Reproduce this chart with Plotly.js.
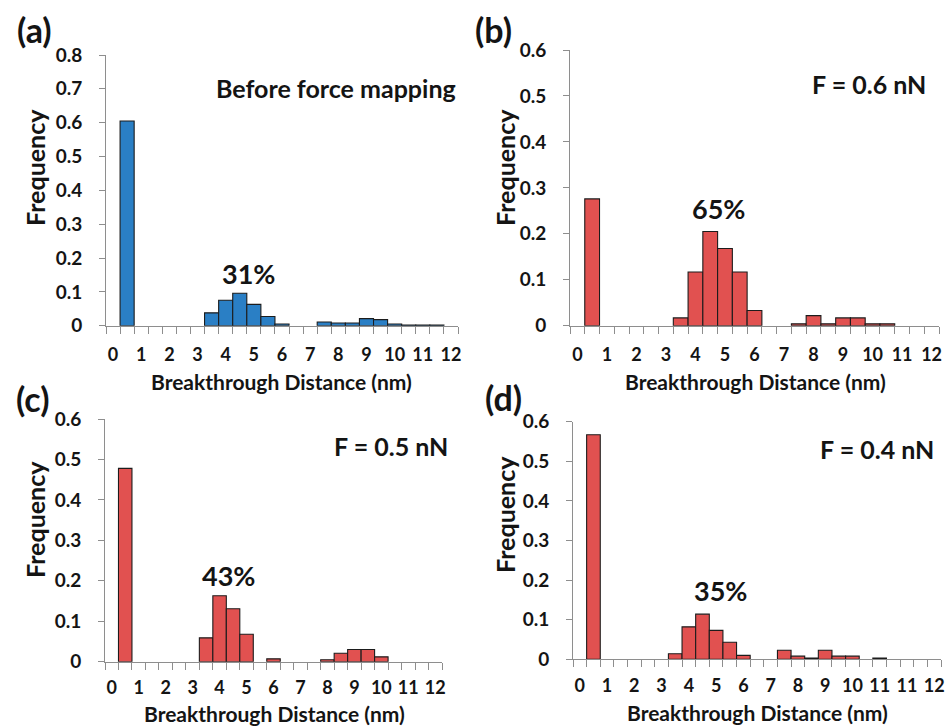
<!DOCTYPE html>
<html>
<head>
<meta charset="utf-8">
<script src="https://cdn.plot.ly/plotly-3.0.1.min.js"></script>
<style>html,body{margin:0;padding:0;background:#fff;}#chart{width:946px;height:726px;}</style>
</head>
<body>
<div id="chart"></div>
<script>
// Frequency per 0.5 nm bin (slot index 0 = label "0", slot 1 = bar between 0 and 1, ...)
const labelsA = ['0','1','2','3','4','5','6','7','8','9','10','11','12'];
const freqA = [0, 0.605, 0, 0, 0, 0, 0, 0.038, 0.075, 0.096, 0.063, 0.027, 0.005, 0, 0, 0.011, 0.008, 0.008, 0.021, 0.018, 0.005, 0.002, 0.002, 0.002, 0];

const labelsB = ['0','1','2','3','4','5','6','7','8','9','10','11','12'];
const freqB = [0, 0.276, 0, 0, 0, 0, 0, 0.017, 0.117, 0.205, 0.168, 0.117, 0.033, 0, 0, 0.004, 0.022, 0.004, 0.017, 0.017, 0.004, 0.004, 0, 0, 0];

const labelsC = ['0','1','2','3','4','5','6','7','8','9','10','11','12'];
const freqC = [0, 0.478, 0, 0, 0, 0, 0, 0.059, 0.163, 0.131, 0.068, 0, 0.007, 0, 0, 0, 0.005, 0.021, 0.030, 0.030, 0.012, 0, 0, 0, 0];

const labelsD = ['0','1','2','3','4','5','6','7','8','9','10','11','11','12'];
const freqD = [0, 0.567, 0, 0, 0, 0, 0, 0.014, 0.082, 0.114, 0.073, 0.043, 0.010, 0, 0, 0.023, 0.008, 0.003, 0.023, 0.008, 0.008, 0, 0.003, 0, 0, 0, 0];

const panelLetters = ['(a)', '(b)', '(c)', '(d)'];
const panelNotes = ['Before force mapping', 'F = 0.6 nN', 'F = 0.5 nN', 'F = 0.4 nN'];
const peakShares = ['31%', '65%', '43%', '35%'];
const yMax = [0.8, 0.6, 0.6, 0.6];
const xTitle = 'Breakthrough Distance (nm)';
const yTitle = 'Frequency';

const BLUE = '#2a7fc5', RED = '#e15150';
const W = 946, H = 726;
const FONT = 'Lato, "Open Sans", sans-serif';
const TXT = '#141414';
const AX = '#8e8e8e';

// pixel boxes of each plot area: [left, right, top, bottom]
const boxes = [
  [106, 458, 55, 325.7],
  [570, 939, 50, 325.7],
  [105, 442, 419, 661.7],
  [573, 941, 421.7, 659.3]
];
const panels = [
  {labels: labelsA, freq: freqA, color: BLUE},
  {labels: labelsB, freq: freqB, color: RED},
  {labels: labelsC, freq: freqC, color: RED},
  {labels: labelsD, freq: freqD, color: RED}
];
// text positions (pixels)
const letterPos = [[34, 29], [493, 30], [32, 398], [503, 397]];
const notePos = [[336, 88], [869, 84], [391, 446], [877, 449]];
const sharePos = [[248, 273], [718, 208], [228, 575], [720, 590]];
const yTitlePos = [[35, 168], [505, 168], [35, 520], [505, 515]];
const xTitlePos = [[281, 381], [755, 381], [274, 713], [757, 712]];
const xLabelStandoff = [13, 13, 10, 10];

const px = (x) => x / W;
const py = (y) => 1 - y / H;

// make repeated tick texts distinct (invisible suffix) so each one is drawn
function uniqueTexts(arr) {
  const seen = {};
  return arr.map(t => {
    seen[t] = (seen[t] || 0) + 1;
    return seen[t] > 1 ? t + '\u200b'.repeat(seen[t] - 1) : t;
  });
}

const data = [];
const layout = {
  width: W, height: H,
  margin: {l: 0, r: 0, t: 0, b: 0},
  paper_bgcolor: '#fff', plot_bgcolor: '#fff',
  showlegend: false,
  bargap: 0,
  font: {family: FONT, color: TXT},
  annotations: []
};

panels.forEach((p, k) => {
  const n = p.freq.length;
  const idx = p.freq.map((_, i) => i);
  const sfx = k === 0 ? '' : String(k + 1);
  data.push({
    type: 'bar',
    x: idx,
    y: p.freq.map(v => v === 0 ? null : v),
    width: 1,
    xaxis: 'x' + sfx, yaxis: 'y' + sfx,
    marker: {color: p.color, line: {color: '#1c1c1c', width: 1.1}},
    hoverinfo: 'x+y'
  });
  const b = boxes[k];
  const tickIdx = p.labels.map((_, i) => 2 * i);
  const bounds = [];
  for (let i = 0; i <= n; i++) bounds.push(i - 0.5);
  layout['xaxis' + sfx] = {
    domain: [px(b[0]), px(b[1])],
    anchor: 'y' + sfx,
    range: [-0.5, n - 0.5],
    tickmode: 'array', tickvals: tickIdx, ticktext: uniqueTexts(p.labels),
    ticks: '',
    tickangle: 0,
    ticklabeloverflow: 'allow',
    ticklabelstandoff: xLabelStandoff[k],
    minor: {tickmode: 'array', tickvals: bounds, ticks: 'outside', ticklen: 7, tickcolor: AX, tickwidth: 1, showgrid: false},
    showline: true, linecolor: AX, linewidth: 1,
    showgrid: false, zeroline: false,
    tickfont: {family: FONT, size: 18, weight: 'bold', color: TXT},
    fixedrange: true
  };
  layout['yaxis' + sfx] = {
    domain: [py(b[3]), py(b[2])],
    anchor: 'x' + sfx,
    range: [0, yMax[k]],
    dtick: 0.1, tick0: 0,
    ticks: 'outside', ticklen: 6, tickcolor: AX, tickwidth: 1,
    ticklabelstandoff: 13,
    ticklabeloverflow: 'allow',
    showline: true, linecolor: AX, linewidth: 1,
    showgrid: false, zeroline: false,
    tickfont: {family: FONT, size: 19, weight: 'bold', color: TXT},
    fixedrange: true
  };
  const ann = layout.annotations;
  ann.push({text: panelLetters[k], xref: 'paper', yref: 'paper', x: px(letterPos[k][0]), y: py(letterPos[k][1]),
    showarrow: false, xanchor: 'center', yanchor: 'middle', font: {size: 34, weight: 'bold', color: TXT, family: FONT}});
  ann.push({text: panelNotes[k], xref: 'paper', yref: 'paper', x: px(notePos[k][0]), y: py(notePos[k][1]),
    showarrow: false, xanchor: 'center', yanchor: 'middle', font: {size: 25, weight: 'bold', color: TXT, family: FONT}});
  ann.push({text: peakShares[k], xref: 'paper', yref: 'paper', x: px(sharePos[k][0]), y: py(sharePos[k][1]),
    showarrow: false, xanchor: 'center', yanchor: 'middle', font: {size: 27, weight: 'bold', color: TXT, family: FONT}});
  ann.push({text: yTitle, xref: 'paper', yref: 'paper', x: px(yTitlePos[k][0]), y: py(yTitlePos[k][1]),
    showarrow: false, textangle: -90, xanchor: 'center', yanchor: 'middle', font: {size: 25, weight: 'bold', color: TXT, family: FONT}});
  ann.push({text: xTitle, xref: 'paper', yref: 'paper', x: px(xTitlePos[k][0]), y: py(xTitlePos[k][1]),
    showarrow: false, xanchor: 'center', yanchor: 'middle', font: {size: 21, weight: 'bold', color: TXT, family: FONT}});
});

Plotly.newPlot('chart', data, layout, {displayModeBar: false, staticPlot: true});
</script>
</body>
</html>
